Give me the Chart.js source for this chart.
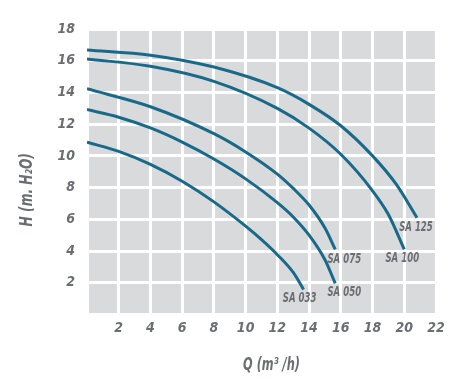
<!DOCTYPE html>
<html>
<head>
<meta charset="utf-8">
<script src="https://cdn.jsdelivr.net/npm/chart.js@4.4.1/dist/chart.umd.min.js"></script>
<style>
  html, body { margin: 0; padding: 0; background: #ffffff; }
  #c { display: block; }
</style>
</head>
<body>
<canvas id="c" width="466" height="388"></canvas>
<script>
// ---- data ----
const seriesNames = ["SA 033", "SA 050", "SA 075", "SA 100", "SA 125"];
const sa033X = [0, 2, 4, 6, 8, 10, 11, 12, 13, 13.65];
const sa033Y = [10.87, 10.28, 9.46, 8.4, 7.1, 5.57, 4.72, 3.77, 2.65, 1.58];
const sa050X = [0, 2, 4, 6, 8, 10, 12, 13, 14, 15, 15.65];
const sa050Y = [12.92, 12.44, 11.76, 10.87, 9.8, 8.55, 7.05, 6.15, 5.0, 3.45, 1.96];
const sa075X = [0, 4, 8, 10, 12, 13, 14, 15, 15.65];
const sa075Y = [14.23, 13.1, 11.4, 10.25, 8.85, 7.95, 6.9, 5.45, 4.1];
const sa100X = [0, 4, 8, 12, 14, 16, 18, 19, 20];
const sa100Y = [16.11, 15.65, 14.7, 13.0, 11.75, 10.1, 7.8, 6.3, 4.1];
const sa125X = [0, 4, 8, 12, 14, 16, 18, 19.5, 20.8];
const sa125Y = [16.68, 16.35, 15.6, 14.3, 13.25, 11.9, 10.0, 8.2, 6.1];
const xTicks = [2, 4, 6, 8, 10, 12, 14, 16, 18, 20, 22];
const yTicks = [2, 4, 6, 8, 10, 12, 14, 16, 18];
const xTitle = "Q (m\u00B3 /h)";
const yTitle = "H (m. H\u2082O)";

const allX = [sa033X, sa050X, sa075X, sa100X, sa125X];
const allY = [sa033Y, sa050Y, sa075Y, sa100Y, sa125Y];

const LINE = "#19698a";
const TEXT = "#6a6d72";
const BG = "#d9dadc";
const FONT = "'DejaVu Sans Condensed', 'Liberation Sans', sans-serif";

const datasets = seriesNames.map((name, i) => ({
  label: name,
  data: allX[i].map((x, j) => ({ x: x, y: allY[i][j] })),
  borderColor: LINE,
  borderWidth: 3,
  pointRadius: 0,
  fill: false,
  cubicInterpolationMode: 'monotone'
}));

const bgPlugin = {
  id: 'bg',
  beforeDraw(chart) {
    const a = chart.chartArea, ctx = chart.ctx;
    ctx.save();
    ctx.fillStyle = BG;
    ctx.fillRect(a.left, a.top, a.right - a.left, a.bottom - a.top);
    ctx.restore();
  }
};

// offsets of each series label relative to the curve's last point (px)
const labelOffsets = [[-4, 9], [9, 9], [9, 10], [-2, 9], [-1, 9.5]];

function scaledText(ctx, text, x, y, sx, font, rot) {
  ctx.save();
  ctx.translate(x, y);
  if (rot) ctx.rotate(rot);
  ctx.scale(sx, 1);
  ctx.font = font;
  ctx.fillText(text, 0, 0);
  ctx.restore();
}

const textPlugin = {
  id: 'texts',
  afterDraw(chart) {
    const ctx = chart.ctx;
    const xs = chart.scales.x, ys = chart.scales.y;
    ctx.save();
    ctx.fillStyle = TEXT;
    ctx.textAlign = 'center';
    ctx.textBaseline = 'middle';
    chart.data.datasets.forEach((ds, i) => {
      const last = ds.data[ds.data.length - 1];
      const px = xs.getPixelForValue(last.x) + labelOffsets[i][0];
      const py = ys.getPixelForValue(last.y) + labelOffsets[i][1];
      scaledText(ctx, ds.label, px, py, 0.68, "italic bold 14px " + FONT, 0);
    });
    const a = chart.chartArea;
    scaledText(ctx, xTitle, (a.left + a.right) / 2 + 10, 366, 0.74, "italic bold 17px " + FONT, 0);
    scaledText(ctx, yTitle, 28, (a.top + a.bottom) / 2 + 18, 0.8, "italic bold 17px " + FONT, -Math.PI / 2);
    ctx.restore();
  }
};

new Chart(document.getElementById('c'), {
  type: 'line',
  data: { datasets: datasets },
  options: {
    responsive: false,
    animation: false,
    layout: { padding: { top: 29, right: 30, left: 0, bottom: 0 } },
    plugins: { legend: { display: false }, tooltip: { enabled: false } },
    scales: {
      x: {
        type: 'linear',
        min: 0, max: 22,
        afterFit(scale) { scale.height = 73.5; },
        afterBuildTicks(scale) { scale.ticks = [0].concat(xTicks).map(v => ({ value: v })); },
        border: { display: false },
        grid: { color: '#ffffff', lineWidth: 3, drawTicks: false },
        ticks: {
          padding: 5,
          color: TEXT,
          font: { family: FONT, size: 14, style: 'italic', weight: 'bold' },
          callback: v => (v === 0 ? '' : String(v))
        }
      },
      y: {
        type: 'linear',
        min: 0, max: 18,
        afterFit(scale) { scale.width = 87; },
        afterBuildTicks(scale) { scale.ticks = [0].concat(yTicks).map(v => ({ value: v })); },
        border: { display: false },
        grid: { color: '#ffffff', lineWidth: 3, drawTicks: false },
        ticks: {
          padding: 12,
          color: TEXT,
          font: { family: FONT, size: 14, style: 'italic', weight: 'bold' },
          callback: v => (v === 0 ? '' : String(v))
        }
      }
    }
  },
  plugins: [bgPlugin, textPlugin]
});
</script>
</body>
</html>
